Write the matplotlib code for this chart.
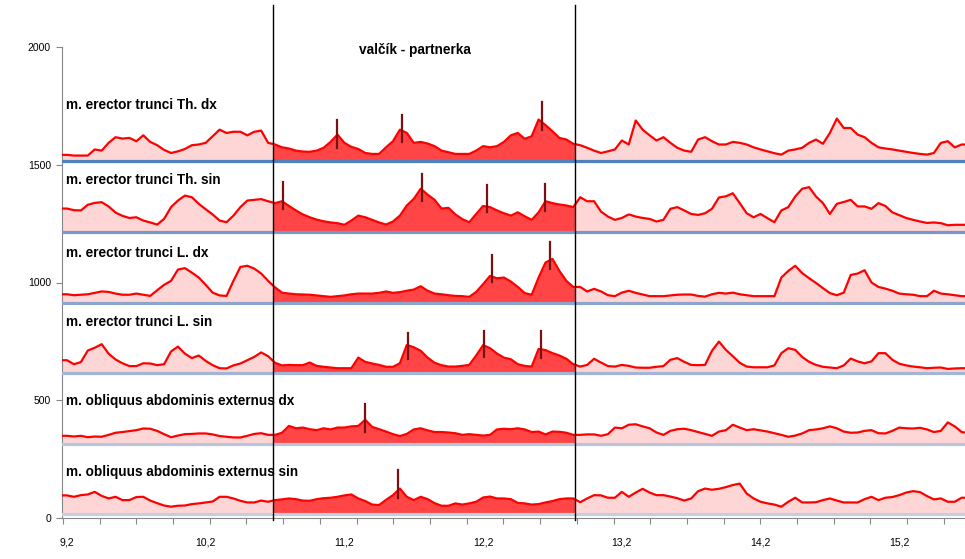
import numpy as np
import matplotlib
matplotlib.use("Agg")
import matplotlib.pyplot as plt
from matplotlib.patches import Rectangle

plt.rcParams['font.family'] = ['Liberation Sans', 'DejaVu Sans']

# cas, krok 0.05
t = np.round(9.15 + 0.05 * np.arange(132), 2)

names = ['m. erector trunci Th. dx', 'm. erector trunci Th. sin',
         'm. erector trunci L. dx', 'm. erector trunci L. sin',
         'm. obliquus abdominis externus dx', 'm. obliquus abdominis externus sin']
offsets = [1515, 1215, 915, 615, 315, 15]
label_y = [1754, 1435, 1124, 834, 497, 197]
title = 'valčík - partnerka'

# amplituda nad zakladnou linijom
th_dx = [27, 27, 24, 24, 24, 50, 45, 78, 102, 96,
         99, 85, 110, 82, 68, 48, 35, 42, 52, 68,
         71, 78, 106, 134, 120, 125, 125, 110, 125, 130,
         78, 71, 59, 54, 45, 41, 40, 45, 57, 82,
         113, 78, 61, 52, 35, 31, 31, 59, 85, 134,
         120, 78, 82, 75, 64, 45, 38, 31, 31, 31,
         45, 64, 59, 64, 82, 110, 120, 95, 106, 177,
         153, 127, 99, 92, 74, 68, 57, 45, 35, 42,
         50, 88, 71, 173, 134, 110, 88, 102, 78, 57,
         45, 40, 92, 102, 85, 71, 71, 82, 78, 71,
         59, 50, 42, 34, 28, 45, 50, 57, 78, 92,
         74, 120, 181, 141, 141, 113, 102, 78, 59, 54,
         50, 45, 40, 35, 31, 28, 35, 78, 85, 59,
         71, 71]
th_sin = [99, 99, 92, 91, 115, 123, 126, 108, 82, 68,
          59, 62, 48, 40, 31, 55, 105, 133, 154, 147,
          119, 96, 74, 48, 41, 69, 105, 133, 136, 139,
          130, 122, 130, 110, 91, 74, 62, 52, 45, 40,
          37, 30, 48, 69, 62, 51, 40, 31, 44, 69,
          112, 140, 183, 158, 136, 99, 102, 74, 54, 41,
          76, 110, 105, 91, 79, 69, 83, 66, 51, 83,
          130, 122, 116, 112, 105, 147, 130, 130, 86, 65,
          51, 59, 74, 65, 59, 55, 44, 51, 98, 105,
          91, 76, 72, 79, 98, 146, 151, 164, 122, 79,
          62, 76, 58, 41, 91, 105, 150, 183, 190, 150,
          122, 76, 119, 127, 136, 108, 108, 98, 122, 110,
          83, 71, 59, 51, 44, 38, 40, 37, 28, 30,
          30, 30]
l_dx = [35, 35, 31, 33, 35, 41, 47, 45, 38, 33,
        33, 38, 33, 28, 52, 75, 92, 140, 146, 127,
        106, 75, 42, 30, 28, 92, 151, 156, 144, 123,
        92, 64, 42, 38, 35, 34, 33, 30, 27, 24,
        27, 30, 35, 38, 38, 38, 41, 47, 41, 44,
        50, 55, 69, 50, 38, 35, 31, 28, 27, 24,
        45, 78, 113, 103, 106, 89, 66, 40, 33, 106,
        170, 185, 134, 92, 66, 66, 47, 58, 47, 31,
        27, 42, 50, 41, 34, 27, 27, 27, 30, 33,
        34, 34, 28, 25, 35, 41, 38, 42, 35, 31,
        27, 27, 27, 27, 106, 134, 156, 125, 103, 83,
        61, 40, 31, 42, 117, 123, 137, 85, 66, 59,
        50, 38, 35, 33, 27, 27, 50, 38, 35, 31,
        27, 27]
l_sin = [55, 55, 38, 47, 96, 108, 123, 83, 58, 42,
         30, 30, 42, 41, 34, 38, 92, 113, 83, 64,
         75, 52, 34, 21, 20, 33, 41, 55, 69, 88,
         72, 44, 33, 35, 34, 34, 45, 31, 27, 24,
         21, 21, 21, 66, 48, 41, 35, 27, 27, 42,
         120, 110, 95, 66, 44, 34, 28, 28, 31, 35,
         75, 119, 106, 83, 66, 59, 38, 31, 28, 103,
         98, 85, 75, 61, 38, 28, 35, 61, 45, 30,
         28, 35, 31, 24, 23, 23, 27, 30, 57, 64,
         48, 35, 34, 35, 95, 134, 99, 72, 44, 28,
         25, 25, 25, 33, 85, 106, 99, 69, 48, 35,
         27, 24, 21, 33, 62, 50, 42, 50, 85, 85,
         57, 40, 33, 28, 25, 21, 23, 24, 18, 20,
         21, 21]
obl_dx = [34, 34, 31, 34, 28, 31, 30, 38, 47, 50,
          54, 58, 65, 64, 55, 41, 28, 35, 41, 42,
          44, 44, 40, 33, 30, 27, 27, 34, 42, 45,
          38, 38, 47, 76, 66, 69, 62, 58, 66, 61,
          69, 69, 74, 76, 102, 72, 62, 52, 41, 33,
          42, 61, 66, 57, 50, 50, 48, 45, 38, 41,
          38, 35, 38, 61, 64, 62, 66, 61, 50, 52,
          40, 52, 51, 47, 38, 38, 40, 40, 34, 41,
          69, 66, 81, 83, 74, 66, 48, 38, 55, 62,
          64, 58, 50, 42, 34, 52, 58, 81, 69, 58,
          62, 57, 52, 45, 38, 30, 35, 44, 58, 61,
          66, 74, 66, 52, 47, 48, 55, 58, 45, 44,
          55, 69, 66, 65, 68, 61, 50, 55, 91, 74,
          50, 45]
obl_sin = [81, 81, 75, 82, 85, 96, 79, 68, 75, 61,
           61, 74, 75, 59, 48, 38, 33, 37, 38, 44,
           47, 51, 55, 75, 75, 68, 58, 51, 51, 59,
           54, 61, 64, 68, 65, 59, 58, 65, 69, 71,
           75, 81, 85, 68, 57, 42, 40, 62, 82, 110,
           75, 61, 75, 65, 48, 37, 37, 47, 42, 47,
           54, 72, 76, 68, 68, 65, 49, 47, 42, 44,
           51, 57, 65, 68, 68, 52, 68, 82, 81, 71,
           71, 96, 75, 93, 109, 93, 82, 82, 76, 69,
           59, 68, 99, 110, 105, 109, 116, 125, 131, 89,
           68, 54, 47, 42, 33, 54, 71, 51, 51, 52,
           61, 68, 59, 51, 51, 51, 65, 75, 61, 71,
           74, 82, 93, 99, 95, 78, 64, 68, 54, 54,
           71, 71]
signals = [th_dx, th_sin, l_dx, l_sin, obl_dx, obl_sin]

# oznacene vrcholy (cas, horni, dolni) nad zakladnou linijom
peaks = [
    [(11.149, 173, 57), (11.617, 198, 82), (12.627, 252, 134)],
    [(10.76, 211, 98), (11.757, 246, 133), (12.226, 197, 83), (12.646, 204, 88)],
    [(12.262, 202, 89), (12.682, 255, 142)],
    [(11.661, 170, 59), (12.204, 180, 67), (12.617, 177, 64)],
    [(11.349, 168, 52)],
    [(11.589, 188, 71)],
]

sel_start, sel_end = 10.685, 12.863
xtick_vals = [9.2, 10.2, 11.2, 12.2, 13.2, 14.2, 15.2]
ytick_vals = [0, 500, 1000, 1500, 2000]
base_colors = ['#4f81bd', '#7897c9', '#8ca5cf', '#a3b5d6', '#b9c5dc', '#c6cfe0']

fig = plt.figure(figsize=(9.65, 5.59), dpi=100)
ax = fig.add_axes([62 / 965, 41 / 559, 903 / 965, 471 / 559])

for i in range(6):
    base = offsets[i]
    y = base + np.array(signals[i])
    ax.fill_between(t, base, y, color='#ffd6d6', lw=0, zorder=1)
    dark = ax.fill_between(t, base, y, color='#ff4545', lw=0, zorder=2)
    dark.set_clip_path(Rectangle((sel_start, -200), sel_end - sel_start, 3000,
                                 transform=ax.transData))
    ax.axhline(base, color=base_colors[i], lw=2.3, zorder=3)
    ax.plot(t, y, color='#ff0000', lw=1.6, zorder=4)
    for pt, top, bot in peaks[i]:
        ax.plot([pt, pt], [base + bot, base + top], color='#7a1010', lw=1.6, zorder=5)
    ax.text(9.19, label_y[i], names[i], fontsize=9.8, fontweight='bold',
            va='center', ha='left', zorder=7)

ax.text(11.709, 1987, title, fontsize=9.8, fontweight='bold', va='center', ha='center')

for xv in (sel_start, sel_end):
    ax.plot([xv, xv], [-8, 2178], color='black', lw=1, clip_on=False, zorder=6)

ax.set_xlim(9.164, 15.674)
ax.set_ylim(0, 2000)

for s in ('top', 'right'):
    ax.spines[s].set_visible(False)
for s in ('left', 'bottom'):
    ax.spines[s].set_color('#868686')
    ax.spines[s].set_linewidth(0.8)

ax.set_yticks(ytick_vals)
ax.set_yticklabels([str(v) for v in ytick_vals])
ax.tick_params(axis='y', length=4, width=0.8, color='#868686', pad=4, labelsize=7.5)

ax.set_xticks(np.arange(9.171, 15.68, 0.2646))
ax.set_xticklabels([])
ax.tick_params(axis='x', which='major', length=4, width=0.8, color='#868686')
ax.set_xticks(xtick_vals, minor=True)
ax.set_xticklabels([str(v).replace('.', ',') for v in xtick_vals], minor=True)
ax.tick_params(axis='x', which='minor', length=0, pad=14, labelsize=7.5)

fig.savefig('out.png', dpi=100)
